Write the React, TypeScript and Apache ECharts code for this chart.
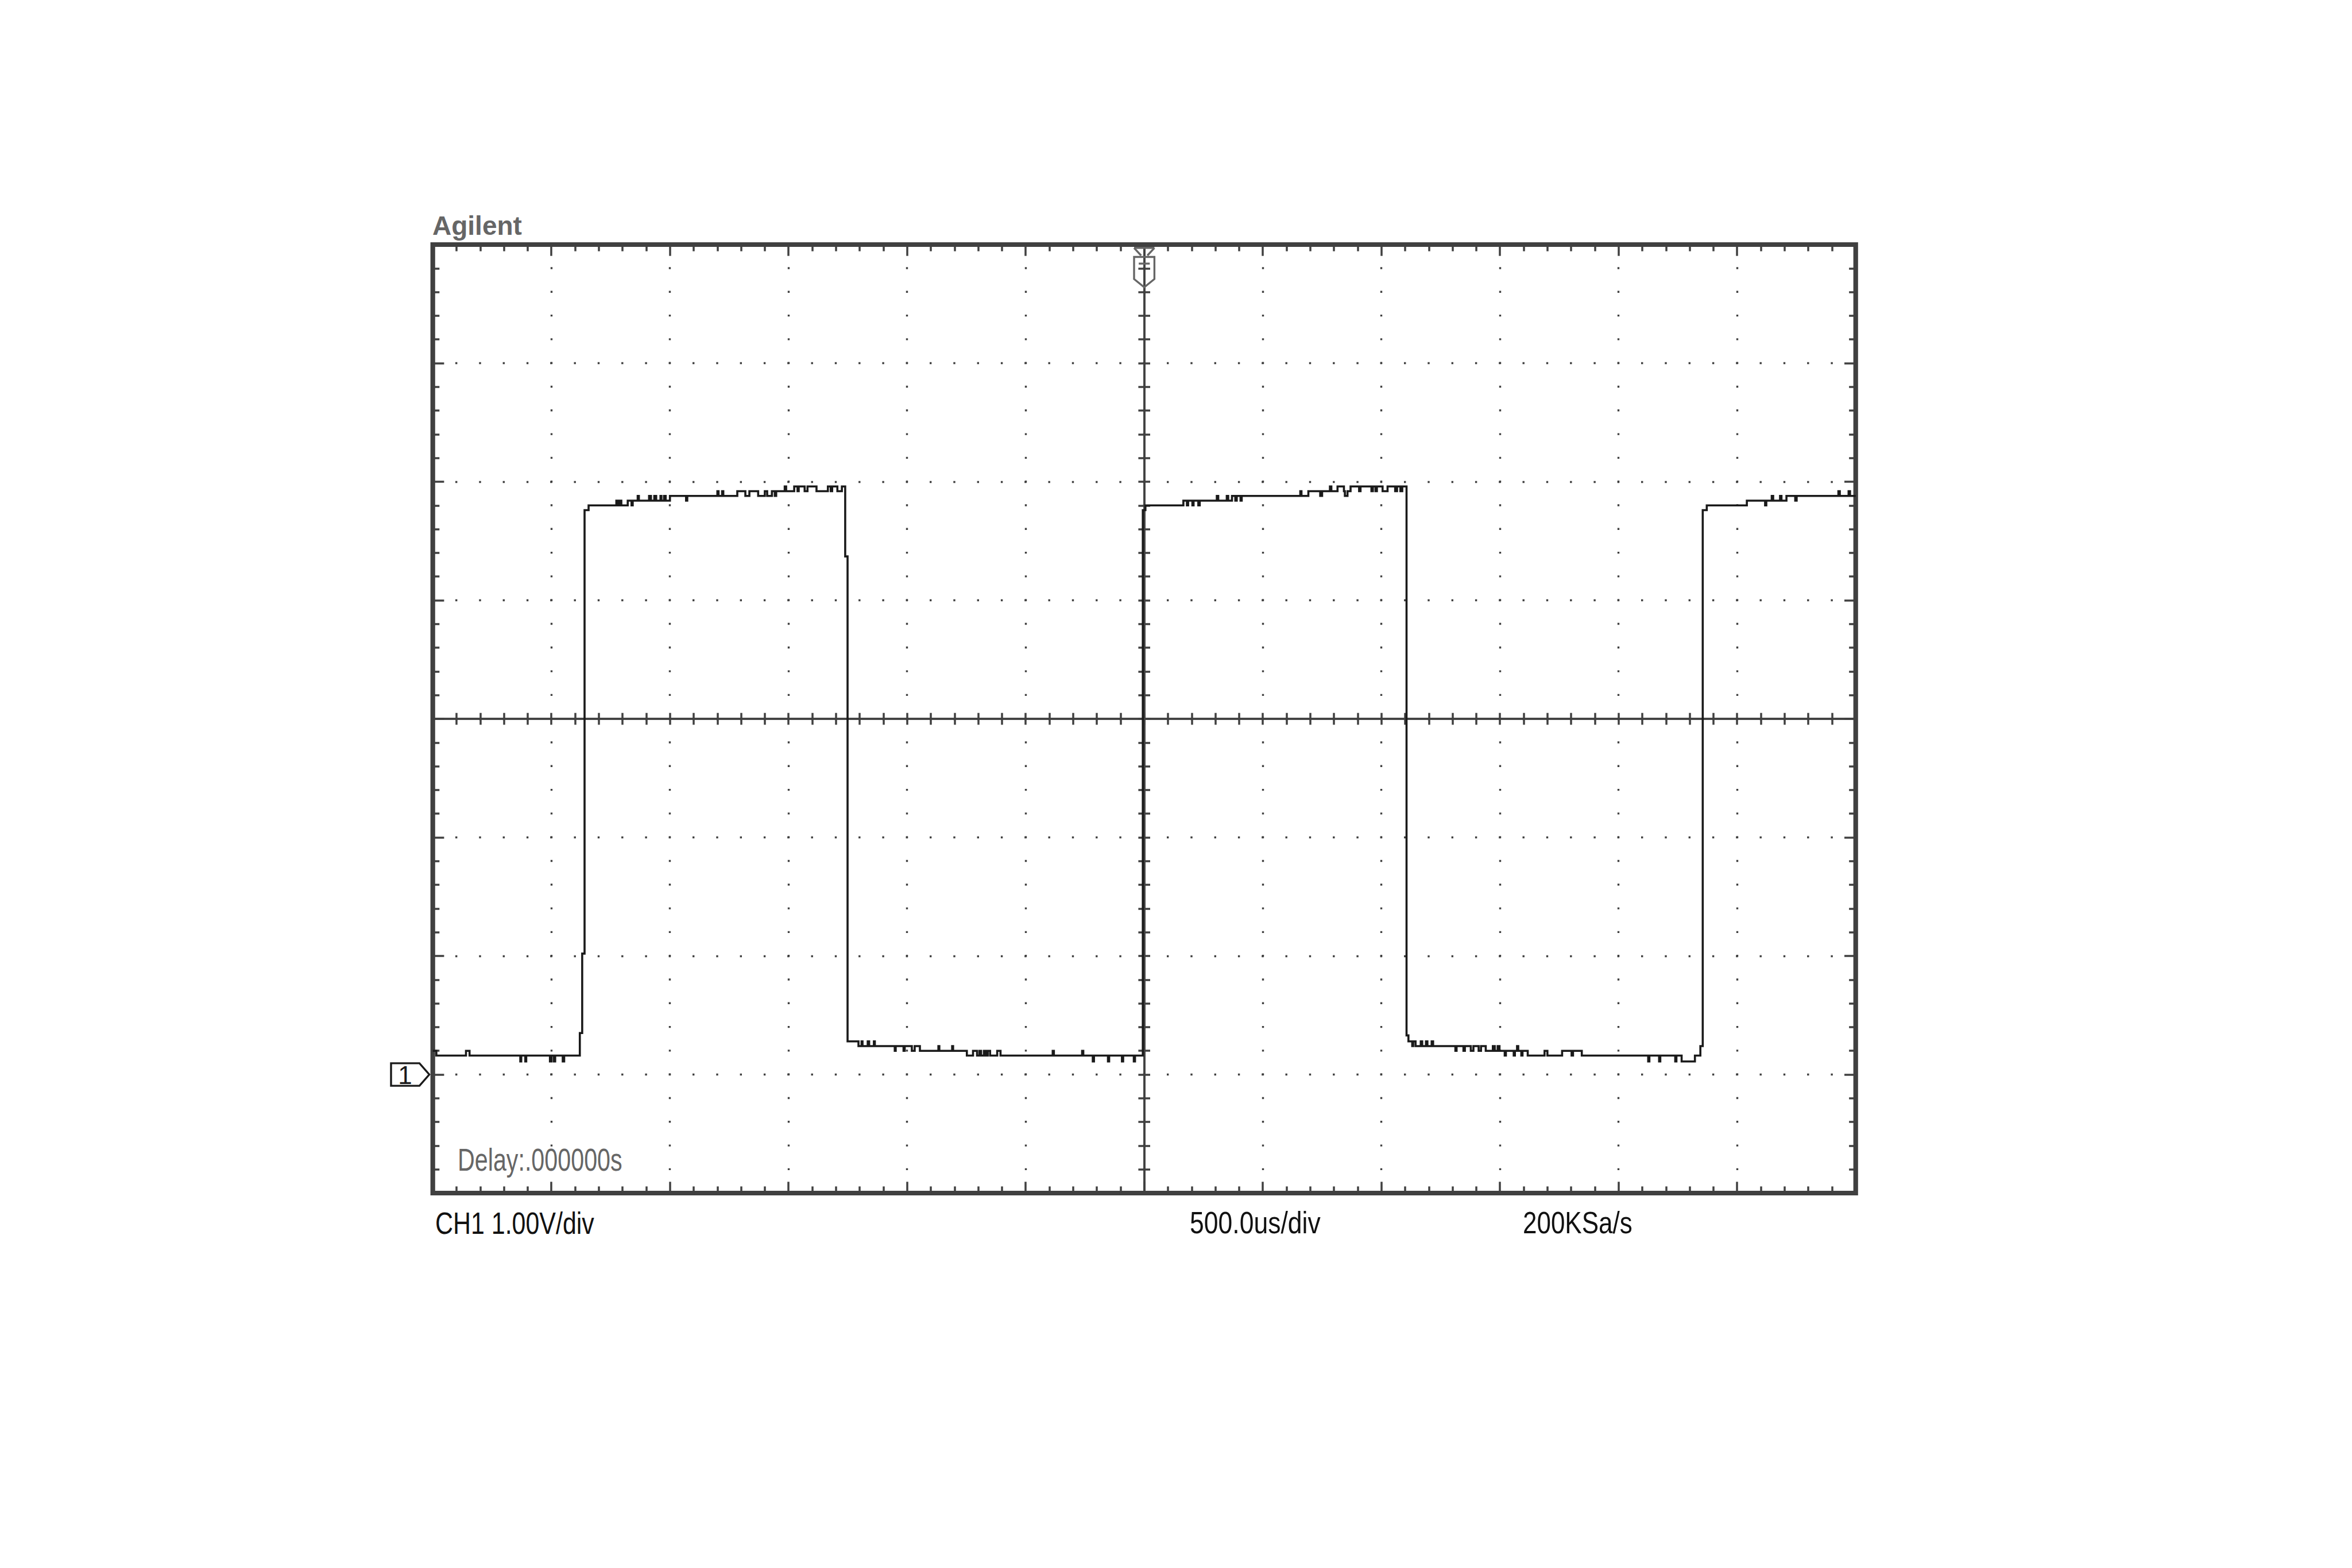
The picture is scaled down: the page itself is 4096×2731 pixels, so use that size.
import { useEffect, useRef } from 'react';
import * as echarts from 'echarts';

const PAGE_W = 4096;
const PAGE_H = 2731;

// Oscilloscope axes (12 x 8 divisions)
const TIME_MIN = -3000; // us
const TIME_MAX = 3000;
const TIME_DIV = 500; // us/div
const VOLT_MIN = -1; // V (ground marker is 3 div below centre)
const VOLT_MAX = 7;
const VOLT_DIV = 1; // V/div
const MINOR_PER_DIV = 5;

// Trace: [time (us), level (V)]; each level holds until the next point
const lowStart: number[][] = [
  [-3000, 0.2], [-2985, 0.16], [-2860, 0.2], [-2845, 0.16], [-2631, 0.11], [-2627, 0.16],
  [-2610, 0.11], [-2606, 0.16], [-2506, 0.11], [-2500, 0.16], [-2490, 0.11], [-2484, 0.16],
  [-2452, 0.11], [-2446, 0.16],
];
const rise1: number[][] = [[-2380, 0.35], [-2370, 1.02], [-2360, 4.76], [-2343, 4.8]];
const high1: number[][] = [
  [-2226, 4.84], [-2219, 4.8], [-2212, 4.84], [-2205, 4.8], [-2178, 4.84], [-2162, 4.8],
  [-2157, 4.84], [-2136, 4.88], [-2131, 4.84], [-2088, 4.88], [-2080, 4.84], [-2066, 4.88],
  [-2058, 4.84], [-2040, 4.88], [-2036, 4.84], [-2025, 4.88], [-2018, 4.84], [-2000, 4.88],
  [-1932, 4.84], [-1927, 4.88], [-1800, 4.92], [-1795, 4.88], [-1780, 4.92], [-1775, 4.88],
  [-1716, 4.92], [-1682, 4.88], [-1665, 4.92], [-1628, 4.88], [-1600, 4.92], [-1590, 4.88],
  [-1570, 4.92], [-1558, 4.88], [-1552, 4.92], [-1516, 4.96], [-1510, 4.92], [-1476, 4.96],
  [-1462, 4.92], [-1457, 4.96], [-1432, 4.92], [-1420, 4.96], [-1382, 4.92], [-1334, 4.96],
  [-1322, 4.92], [-1316, 4.96], [-1294, 4.92], [-1275, 4.96],
];
const fall1: number[][] = [[-1261, 4.37], [-1251, 0.28]];
const low1: number[][] = [
  [-1205, 0.24], [-1192, 0.28], [-1188, 0.24], [-1166, 0.28], [-1160, 0.24], [-1140, 0.28],
  [-1136, 0.24], [-1052, 0.2], [-1048, 0.24], [-1015, 0.2], [-1010, 0.24], [-980, 0.2],
  [-968, 0.24], [-946, 0.2], [-868, 0.24], [-864, 0.2], [-810, 0.24], [-806, 0.2],
  [-748, 0.16], [-722, 0.2], [-705, 0.16], [-695, 0.2], [-688, 0.16], [-676, 0.2],
  [-668, 0.16], [-660, 0.2], [-650, 0.16], [-620, 0.2], [-606, 0.16], [-386, 0.2],
  [-381, 0.16], [-262, 0.2], [-257, 0.16], [-217, 0.11], [-212, 0.16], [-153, 0.11],
  [-148, 0.16], [-94, 0.11], [-89, 0.16], [-44, 0.11], [-39, 0.16],
];
const rise2: number[][] = [[-6, 4.76], [5, 4.8]];
const high2: number[][] = [
  [165, 4.84], [180, 4.8], [185, 4.84], [203, 4.8], [208, 4.84], [228, 4.8], [234, 4.84],
  [306, 4.88], [312, 4.84], [348, 4.88], [354, 4.84], [370, 4.88], [384, 4.84], [390, 4.88],
  [406, 4.84], [411, 4.88], [658, 4.92], [663, 4.88], [692, 4.92], [742, 4.88], [750, 4.92],
  [783, 4.96], [789, 4.92], [815, 4.96], [842, 4.92], [846, 4.88], [857, 4.92], [870, 4.96],
  [906, 4.92], [912, 4.96], [958, 4.92], [964, 4.96], [975, 4.92], [981, 4.96], [1005, 4.92],
  [1026, 4.96], [1058, 4.92], [1066, 4.96], [1080, 4.92], [1088, 4.96],
];
const fall2: number[][] = [[1106, 0.33], [1114, 0.28]];
const low2: number[][] = [
  [1130, 0.24], [1134, 0.28], [1144, 0.24], [1166, 0.28], [1172, 0.24], [1188, 0.28],
  [1194, 0.24], [1212, 0.28], [1218, 0.24], [1312, 0.2], [1317, 0.24], [1346, 0.2],
  [1352, 0.24], [1377, 0.2], [1388, 0.24], [1410, 0.2], [1420, 0.24], [1440, 0.2],
  [1470, 0.24], [1478, 0.2], [1490, 0.24], [1498, 0.2], [1520, 0.16], [1525, 0.2],
  [1558, 0.16], [1563, 0.2], [1572, 0.24], [1577, 0.2], [1590, 0.16], [1595, 0.2],
  [1617, 0.16], [1688, 0.2], [1700, 0.16], [1762, 0.2], [1802, 0.16], [1808, 0.2],
  [1845, 0.16], [2125, 0.11], [2130, 0.16], [2171, 0.11], [2176, 0.16], [2239, 0.11],
  [2244, 0.16], [2266, 0.11], [2322, 0.16],
];
const rise3: number[][] = [[2345, 0.24], [2355, 4.76], [2372, 4.8]];
const high3: number[][] = [
  [2541, 4.84], [2618, 4.8], [2623, 4.84], [2646, 4.88], [2652, 4.84], [2681, 4.88],
  [2687, 4.84], [2708, 4.88], [2745, 4.84], [2751, 4.88], [2927, 4.92], [2933, 4.88],
  [2970, 4.92], [2976, 4.88], [3000, 4.88],
];

const trace = [
  ...lowStart, ...rise1, ...high1, ...fall1, ...low1, ...rise2, ...high2,
  ...fall2, ...low2, ...rise3, ...high3,
];

// Texts
const brandText = 'Agilent';
const delayText = 'Delay:.000000s';
const channelText = 'CH1 1.00V/div';
const timebaseText = '500.0us/div';
const sampleRateText = '200KSa/s';
const channelMarkerText = '1';

// Layout / style
const GRID = { left: 753.7, top: 426, width: 2478, height: 1652 };
const FRAME = '#404040';
const TRACE = '#1a1a1a';
const LABEL_GREY = '#666666';
const FONT = '"Liberation Sans", Arial, sans-serif';
const MINOR_PX = GRID.height / ((VOLT_MAX - VOLT_MIN) / VOLT_DIV) / MINOR_PER_DIV;
const DOT = 3.4;

const tickStyle = { color: FRAME, width: 3.5 };
const dotted = {
  color: FRAME,
  width: DOT,
  type: [DOT, MINOR_PX - DOT],
  dashOffset: DOT / 2,
  cap: 'butt',
};

function borderAxis(min: number, max: number, interval: number, position: string, split: boolean) {
  return {
    type: 'value',
    min,
    max,
    interval,
    position,
    axisLine: { show: false, onZero: false },
    axisTick: { show: true, inside: true, length: 19.7, lineStyle: tickStyle },
    minorTick: { show: true, splitNumber: MINOR_PER_DIV, length: 11.6, lineStyle: tickStyle },
    axisLabel: { show: false },
    splitLine: { show: split, lineStyle: dotted },
    minorSplitLine: { show: false },
  };
}

function centreAxis(min: number, max: number, interval: number, position: string, inside: boolean, zeroIndex: number) {
  return {
    type: 'value',
    min,
    max,
    interval,
    position,
    axisLine: { show: true, onZero: true, onZeroAxisIndex: zeroIndex, lineStyle: { color: FRAME, width: 3.5 } },
    axisTick: { show: true, inside, length: 10.3, lineStyle: tickStyle },
    minorTick: { show: true, splitNumber: MINOR_PER_DIV, length: 10.3, lineStyle: tickStyle },
    axisLabel: { show: false },
    splitLine: { show: false },
  };
}

export default function App() {
  const ref = useRef<HTMLDivElement>(null);

  useEffect(() => {
    if (!ref.current) return;
    const chart = echarts.init(ref.current, undefined, { renderer: 'svg' });
    const option: any = {
      animation: false,
      backgroundColor: '#ffffff',
      grid: {
        ...GRID,
        show: true,
        borderColor: FRAME,
        borderWidth: 8.2,
        backgroundColor: 'transparent',
        containLabel: false,
        outerBoundsMode: 'none',
      },
      xAxis: [
        borderAxis(TIME_MIN, TIME_MAX, TIME_DIV, 'bottom', true),
        borderAxis(TIME_MIN, TIME_MAX, TIME_DIV, 'top', false),
        centreAxis(TIME_MIN, TIME_MAX, TIME_DIV, 'bottom', true, 2),
        centreAxis(TIME_MIN, TIME_MAX, TIME_DIV, 'bottom', false, 2),
      ],
      yAxis: [
        borderAxis(VOLT_MIN, VOLT_MAX, VOLT_DIV, 'left', true),
        borderAxis(VOLT_MIN, VOLT_MAX, VOLT_DIV, 'right', false),
        centreAxis(-4, 4, 1, 'left', true, 0),
        centreAxis(-4, 4, 1, 'left', false, 0),
      ],
      series: [
        {
          type: 'line',
          xAxisIndex: 0,
          yAxisIndex: 0,
          data: trace,
          step: 'end',
          symbol: 'none',
          showSymbol: false,
          silent: true,
          z: 5,
          lineStyle: { color: TRACE, width: 3.6, join: 'miter', cap: 'butt' },
        },
      ],
    };
    chart.setOption(option);

    const cx = chart.convertToPixel({ xAxisIndex: 0 }, 0) as number;
    const gl = chart.convertToPixel({ xAxisIndex: 0 }, TIME_MIN) as number;
    const gy = chart.convertToPixel({ yAxisIndex: 0 }, 0) as number;
    const gt = chart.convertToPixel({ yAxisIndex: 0 }, VOLT_MAX) as number;

    const grey = { stroke: LABEL_GREY, lineWidth: 3.4, fill: 'none' };
    const dark = { stroke: TRACE, lineWidth: 3.4, fill: 'none' };
    const tipX = gl - 6.1;

    const text = (t: string, x: number, y: number, size: number, color: string, scaleX: number, weight = 'normal') => ({
      type: 'text',
      x,
      y,
      scaleX,
      z: 20,
      silent: true,
      style: {
        text: t,
        x: 0,
        y: 0,
        fill: color,
        fontSize: size,
        fontFamily: FONT,
        fontWeight: weight,
        align: 'left',
        verticalAlign: 'middle',
      },
    });

    chart.setOption({
      graphic: [
        text(brandText, 753, 393, 46, LABEL_GREY, 1, 'bold'),
        text(delayText, 797, 2020, 55, LABEL_GREY, 0.75),
        text(channelText, 758, 2130, 53, '#111111', 0.81),
        text(timebaseText, 2072, 2130, 53, '#111111', 0.84),
        text(sampleRateText, 2652, 2130, 53, '#111111', 0.83),
        // trigger marker
        { type: 'line', z: 15, silent: true, shape: { x1: cx - 17.7, y1: gt + 5.8, x2: cx + 17.7, y2: gt + 5.8 }, style: grey },
        { type: 'polyline', z: 15, silent: true, shape: { points: [[cx - 17.7, gt + 5.8], [cx - 5.5, gt + 19]] }, style: grey },
        { type: 'polyline', z: 15, silent: true, shape: { points: [[cx + 17.7, gt + 5.8], [cx + 5.5, gt + 19]] }, style: grey },
        {
          type: 'polygon', z: 15, silent: true,
          shape: { points: [[cx - 17.7, gt + 21.5], [cx + 17.7, gt + 21.5], [cx + 17.7, gt + 60], [cx, gt + 74.4], [cx - 17.7, gt + 60]] },
          style: grey,
        },
        { type: 'line', z: 15, silent: true, shape: { x1: cx - 9.6, y1: gt + 33.1, x2: cx + 9.6, y2: gt + 33.1 }, style: grey },
        // channel 1 ground marker
        {
          type: 'polygon', z: 15, silent: true,
          shape: { points: [[tipX - 66.6, gy - 19.6], [tipX - 17.1, gy - 19.6], [tipX, gy], [tipX - 17.1, gy + 19.6], [tipX - 66.6, gy + 19.6]] },
          style: dark,
        },
        {
          type: 'text', z: 20, silent: true, x: tipX - 42, y: gy + 1,
          style: { text: channelMarkerText, x: 0, y: 0, fill: TRACE, fontSize: 44, fontFamily: FONT, align: 'center', verticalAlign: 'middle' },
        },
      ],
    });

    return () => chart.dispose();
  }, []);

  return (
    <div
      ref={ref}
      style={{ position: 'absolute', left: 0, top: 0, width: PAGE_W, height: PAGE_H, background: '#ffffff' }}
    />
  );
}
